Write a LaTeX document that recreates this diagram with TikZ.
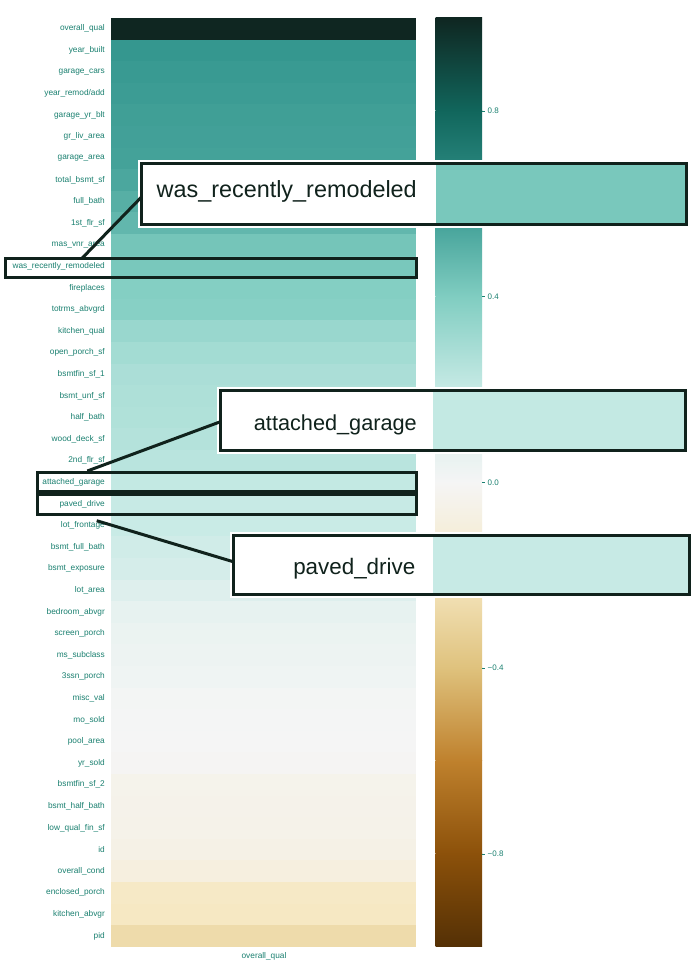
\documentclass[tikz,border=0pt]{standalone}
\usepackage{fontspec}
\setmainfont{Liberation Sans}
\definecolor{b0}{HTML}{543005}
\definecolor{b1}{HTML}{8C510A}
\definecolor{b2}{HTML}{BF812D}
\definecolor{b3}{HTML}{DFC27D}
\definecolor{b4}{HTML}{F6E8C3}
\definecolor{b5}{HTML}{F5F5F5}
\definecolor{b6}{HTML}{C7EAE5}
\definecolor{b7}{HTML}{80CDC1}
\definecolor{b8}{HTML}{35978F}
\definecolor{b9}{HTML}{11665C}
\definecolor{b10}{HTML}{0F2621}
\definecolor{ink}{HTML}{10221C}
\definecolor{lbl}{HTML}{1A8070}
\newcommand\setcc[1]{%
  \pgfmathsetmacro\ccidx{(#1+1)*5}%
  \pgfmathtruncatemacro\cclo{min(floor(\ccidx),9)}%
  \pgfmathtruncatemacro\cchi{\cclo+1}%
  \pgfmathsetmacro\ccpp{(\ccidx-\cclo)*100}%
  \colorlet{cc}{b\cchi!\ccpp!b\cclo}%
}
\newcommand\hrow[3]{%
  \setcc{#3}%
  \fill[cc] (111.3,{18+#1*21.598}) rectangle (416.3,{18+(#1+1)*21.598+0.4});
  \node[rowlbl,anchor=east] (r#1) at (105,{18+(#1+0.5)*21.598}) {#2};
}
\begin{document}
\begin{tikzpicture}[x=1pt,y=-1pt,
  rowlbl/.style={font=\fontsize{8.3}{9}\selectfont,text=lbl,inner sep=0pt},
  ticklbl/.style={font=\fontsize{8}{9}\selectfont,text=lbl,inner sep=0pt,anchor=west},
  hl/.style={draw=ink,line width=3pt,inner sep=0pt,fill=none},
  callout/.style={draw=ink,line width=3pt,inner sep=0pt,fill=none},
  bigtxt/.style={text=ink,inner sep=0pt,anchor=base east},
  conn/.style={draw=ink,line width=3pt}]
\useasboundingbox (0,0) rectangle (700,980);
\fill[white] (0,0) rectangle (700,980);
% heatmap rows
\hrow{0}{overall\_qual}{1.0}
\hrow{1}{year\_built}{0.60}
\hrow{2}{garage\_cars}{0.59}
\hrow{3}{year\_remod/add}{0.58}
\hrow{4}{garage\_yr\_blt}{0.57}
\hrow{5}{gr\_liv\_area}{0.565}
\hrow{6}{garage\_area}{0.56}
\hrow{7}{total\_bsmt\_sf}{0.54}
\hrow{8}{full\_bath}{0.51}
\hrow{9}{1st\_flr\_sf}{0.48}
\hrow{10}{mas\_vnr\_area}{0.43}
\hrow{11}{was\_recently\_remodeled}{0.42}
\hrow{12}{fireplaces}{0.39}
\hrow{13}{totrms\_abvgrd}{0.38}
\hrow{14}{kitchen\_qual}{0.33}
\hrow{15}{open\_porch\_sf}{0.30}
\hrow{16}{bsmtfin\_sf\_1}{0.28}
\hrow{17}{bsmt\_unf\_sf}{0.27}
\hrow{18}{half\_bath}{0.265}
\hrow{19}{wood\_deck\_sf}{0.255}
\hrow{20}{2nd\_flr\_sf}{0.24}
\hrow{21}{attached\_garage}{0.21}
\hrow{22}{paved\_drive}{0.20}
\hrow{23}{lot\_frontage}{0.19}
\hrow{24}{bsmt\_full\_bath}{0.16}
\hrow{25}{bsmt\_exposure}{0.14}
\hrow{26}{lot\_area}{0.10}
\hrow{27}{bedroom\_abvgr}{0.06}
\hrow{28}{screen\_porch}{0.045}
\hrow{29}{ms\_subclass}{0.035}
\hrow{30}{3ssn\_porch}{0.025}
\hrow{31}{misc\_val}{0.01}
\hrow{32}{mo\_sold}{0.005}
\hrow{33}{pool\_area}{0.0}
\hrow{34}{yr\_sold}{-0.01}
\hrow{35}{bsmtfin\_sf\_2}{-0.04}
\hrow{36}{bsmt\_half\_bath}{-0.045}
\hrow{37}{low\_qual\_fin\_sf}{-0.05}
\hrow{38}{id}{-0.06}
\hrow{39}{overall\_cond}{-0.09}
\hrow{40}{enclosed\_porch}{-0.19}
\hrow{41}{kitchen\_abvgr}{-0.20}
\hrow{42}{pid}{-0.27}
\node[rowlbl,anchor=center] (xlbl) at (264,956.7) {overall\_qual};
% colour bar
\foreach \i in {0,...,9}{
  \pgfmathtruncatemacro\j{\i+1}
  \pgfmathsetmacro\ybot{946.7-\i*92.87}
  \pgfmathsetmacro\ytop{946.7-(\i+1)*92.87-0.4}
  \shade[bottom color=b\i,top color=b\j] (435.7,\ytop) rectangle (482,\ybot);
}
\foreach \v/\t [count=\k] in {0.8/0.8,0.4/0.4,0.0/0.0,-0.4/−0.4,-0.8/−0.8}{
  \pgfmathsetmacro\yy{18+(1-\v)*464.35}
  \draw[lbl,line width=0.6pt] (482,\yy) -- (485,\yy);
  \node[ticklbl] (tk\k) at (487.5,\yy) {\t};
}
% highlight rectangles
\node[hl,minimum width=411.7,minimum height=19.4] (h1) at (210.85,268) {};
\node[hl,minimum width=379,minimum height=19.4] (h2) at (227.2,482) {};
\node[hl,minimum width=379,minimum height=20.2] (h3) at (227.2,504.4) {};
% callout boxes
\fill[white] (138,160.3) rectangle (689.7,227.7);
\fill[white] (217,387) rectangle (688.7,453.7);
\fill[white] (229.7,532) rectangle (692.7,597.7);
\setcc{0.42}\fill[cc] (436,165.3) rectangle (684.7,222.7);
\setcc{0.21}\fill[cc] (433.3,392) rectangle (683.7,448.7);
\setcc{0.20}\fill[cc] (432.7,537) rectangle (687.7,592.7);
\node[callout,minimum width=544.7,minimum height=60.4] (b1) at (413.85,194) {};
\node[callout,minimum width=464.7,minimum height=59.7] (b2) at (452.85,420.35) {};
\node[callout,minimum width=456,minimum height=58.7] (b3) at (461.2,564.85) {};
\node[bigtxt,font=\fontsize{23.4}{26}\selectfont] (t1) at (417,197) {was\_recently\_remodeled};
\node[bigtxt,font=\fontsize{21.7}{24}\selectfont] (t2) at (417,430) {attached\_garage};
\node[bigtxt,font=\fontsize{22.4}{25}\selectfont] (t3) at (415.5,574) {paved\_drive};
% connectors
\coordinate (c1a) at (82,258.3);
\coordinate (c1b) at (141.5,197);
\coordinate (c2a) at (87.3,471);
\coordinate (c2b) at (220.5,421.7);
\coordinate (c3a) at (96.7,520.7);
\coordinate (c3b) at (233.2,561.7);
\draw[conn] (c1a) -- (c1b);
\draw[conn] (c2a) -- (c2b);
\draw[conn] (c3a) -- (c3b);
\end{tikzpicture}
\end{document}
